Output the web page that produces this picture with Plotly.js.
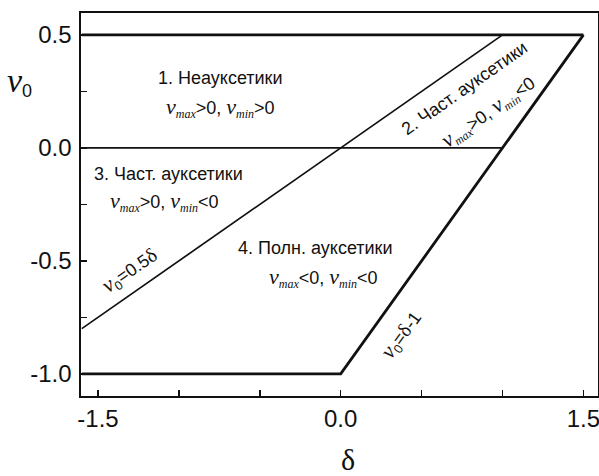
<!DOCTYPE html>
<html>
<head>
<meta charset="utf-8">
<script src="https://cdn.plot.ly/plotly-3.0.1.min.js"></script>
<style>
  html, body { margin: 0; padding: 0; background: #fff; }
  #chart { width: 599px; height: 476px; }
</style>
</head>
<body>
<div id="chart"></div>
<script>
// Region boundaries of the Poisson's ratio diagram (ν0 versus δ)
const upperX = [-1.6, 1.5];
const upperY = [0.5, 0.5];
const lowerX = [-1.6, 0.0, 1.5];
const lowerY = [-1.0, -1.0, 0.5];
const zeroX = [-1.6, 1.0];
const zeroY = [0.0, 0.0];
const halfX = [-1.6, 1.0];
const halfY = [-0.8, 0.5];

// Tick labels
const xTickVals = [-1.5, 0.0, 1.5];
const xTickText = ['-1.5', '0.0', '1.5'];
const yTickVals = [-1.0, -0.5, 0.0, 0.5];
const yTickText = ['-1.0', '-0.5', '0.0', '0.5'];

const INK = '#111';
const SANS = 'Liberation Sans, Arial, sans-serif';
const SERIF = 'Liberation Serif, Times New Roman, serif';

function line(x, y, w) {
  return { x: x, y: y, type: 'scatter', mode: 'lines',
           line: { color: INK, width: w }, hoverinfo: 'skip' };
}

// ν with an italic subscript, e.g. ν_max
function nu(sub, big, small) {
  return '<span style="font-family:' + SERIF + ';font-style:italic;font-size:' + big + 'px">ν</span>' +
         '<sub><span style="font-family:' + SERIF + ';font-style:italic;font-size:' + small + 'px">' + sub + '</span></sub>';
}

function cond(a, b) {
  return nu('max', 22, 12) + a + '0, ' + nu('min', 22, 12) + b + '0';
}

function note(x, y, text, angle, size) {
  return { x: x, y: y, xref: 'x', yref: 'y', text: text, showarrow: false,
           textangle: angle || 0,
           font: { family: SANS, size: size || 18, color: INK } };
}

const traces = [
  line(upperX, upperY, 2.8),
  line(lowerX, lowerY, 2.8),
  line(zeroX, zeroY, 1.7),
  line(halfX, halfY, 1.7)
];

const annotations = [
  note(-0.742, 0.31, '1. Неауксетики'),
  note(-0.742, 0.18, cond('&gt;', '&gt;')),
  note(-1.064, -0.115, '3. Част. ауксетики'),
  note(-1.088, -0.235, cond('&gt;', '&lt;')),
  note(-0.155, -0.442, '4. Полн. ауксетики'),
  note(-0.105, -0.575, cond('&lt;', '&lt;')),
  note(0.767, 0.265, '2. Част. ауксетики', -35),
  note(0.915, 0.16, cond('&gt;', '&lt;'), -35),
  note(-1.305, -0.544,
       '<span style="font-family:' + SERIF + ';font-style:italic;font-size:22px">ν</span><sub>0</sub>=0.5<span style="font-family:' + SERIF + ';font-size:20px">δ</span>',
       -35),
  note(0.377, -0.827,
       '<span style="font-family:' + SERIF + ';font-style:italic;font-size:22px">ν</span><sub>0</sub>=<span style="font-family:' + SERIF + ';font-size:20px">δ</span>-1',
       -54),
  // axis titles drawn upright
  { xref: 'paper', yref: 'paper', x: -0.118, y: 0.82, xanchor: 'center', yanchor: 'middle',
    text: '<span style="font-family:' + SERIF + ';font-style:italic;font-size:34px">ν</span><sub><span style="font-size:18px">0</span></sub>',
    showarrow: false, font: { family: SANS, size: 26, color: INK } },
  { xref: 'paper', yref: 'paper', x: 0.5163, y: -0.165, xanchor: 'center', yanchor: 'middle',
    text: 'δ', showarrow: false, font: { family: SERIF, size: 30, color: INK } }
];

function axis(range, vals, text, minorStep, standoff) {
  return {
    range: range, tickmode: 'array', tickvals: vals, ticktext: text,
    ticks: 'inside', ticklen: 6, tickwidth: 1.5, tickcolor: INK,
    ticklabelstandoff: standoff, ticklabeloverflow: 'allow',
    minor: { tickmode: 'linear', tick0: 0, dtick: minorStep, ticks: 'inside',
             ticklen: 6, tickwidth: 1.5, tickcolor: INK, showgrid: false },
    showline: true, linecolor: INK, linewidth: 1.7, mirror: true,
    showgrid: false, zeroline: false,
    tickfont: { family: SANS, size: 24, color: INK }
  };
}

const layout = {
  width: 599, height: 476,
  margin: { l: 81, r: 1, t: 13, b: 80 },
  paper_bgcolor: '#fff', plot_bgcolor: '#fff',
  showlegend: false,
  xaxis: axis([-1.605, 1.59], xTickVals, xTickText, 0.5, 0),
  yaxis: axis([-1.098, 0.597], yTickVals, yTickText, 0.25, 3),
  annotations: annotations
};

Plotly.newPlot('chart', traces, layout, { staticPlot: true, displayModeBar: false });
</script>
</body>
</html>
